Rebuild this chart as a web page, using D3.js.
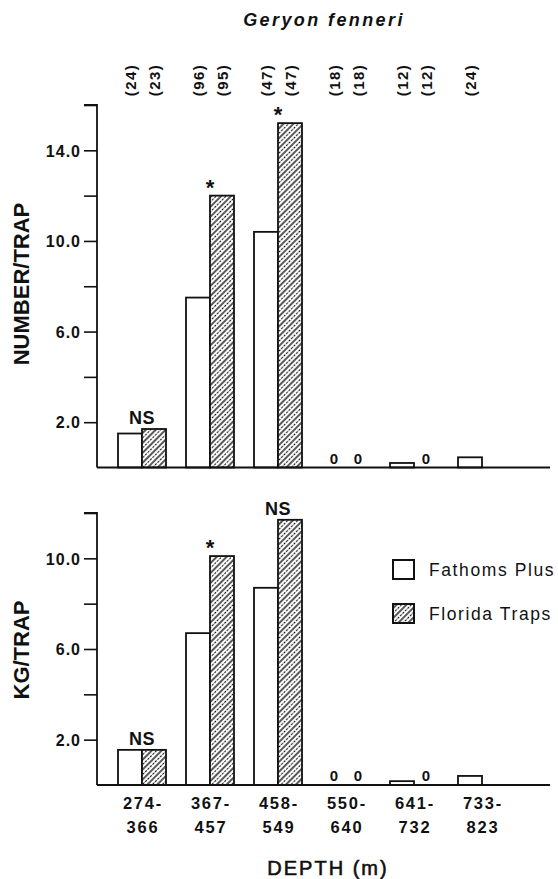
<!DOCTYPE html>
<html><head><meta charset="utf-8">
<script src="https://cdn.jsdelivr.net/npm/d3@7"></script>
<style>body{margin:0;background:#fff}svg{display:block}text{font-family:"Liberation Sans",Arial,sans-serif;fill:#111}</style>
</head><body>
<script>
const categories = ["274-366","367-457","458-549","550-640","641-732","733-823"];
const catLine1 = ["274-","367-","458-","550-","641-","733-"];
const catLine2 = ["366","457","549","640","732","823"];
const seriesNames = ["Fathoms Plus","Florida Traps"];
const numFathoms = [1.5, 7.5, 10.4, 0, 0.2, 0.45];
const numFlorida = [1.7, 12.0, 15.2, 0, 0, null];
const kgFathoms = [1.55, 6.7, 8.7, 0, 0.17, 0.4];
const kgFlorida = [1.55, 10.1, 11.7, 0, 0, null];
const nFathoms = [24, 96, 47, 18, 12, 24];
const nFlorida = [23, 95, 47, 18, 12, null];
const numSig = ["NS","*","*","","",""];
const kgSig = ["NS","*","NS","","",""];
const numTicks = [0,2,4,6,8,10,12,14,16];
const numTickLabels = [2,6,10,14];
const kgTicks = [0,2,4,6,8,10,12];
const kgTickLabels = [2,6,10];

const W = 558, H = 879;
const svg = d3.select("body").append("svg").attr("width", W).attr("height", H);
const defs = svg.append("defs");
const pat = defs.append("pattern").attr("id","hatch").attr("patternUnits","userSpaceOnUse")
  .attr("width",7).attr("height",7).attr("patternTransform","rotate(45)");
pat.append("rect").attr("width",7).attr("height",7).attr("fill","#fff");
pat.append("line").attr("x1",1).attr("x2",1).attr("y1",0).attr("y2",7).attr("stroke","#111").attr("stroke-width",1.4);
pat.append("line").attr("x1",4.5).attr("x2",4.5).attr("y1",0).attr("y2",7).attr("stroke","#111").attr("stroke-width",1.1).attr("stroke-dasharray","2.2,1.3");

const axisX0 = 97, axisX1 = 550;
const x = d3.scaleBand().domain(categories).range([108, 516]).padding(0);
const x1 = d3.scaleBand().domain(seriesNames).range([10, 58]).padding(0);

// title
svg.append("text").attr("x", 324).attr("y", 26).attr("text-anchor","middle")
  .style("font-size","18px").style("font-weight","bold").style("font-style","italic")
  .style("letter-spacing","2.4px").text("Geryon fenneri");

// counts
function countLabel(xc, v){
  if (v == null) return;
  svg.append("text").attr("transform", `translate(${xc+5.5},80) rotate(-90)`)
    .attr("text-anchor","middle").style("font-size","15px").style("font-weight","bold")
    .style("letter-spacing","1.4px").text(`(${v})`);
}
categories.forEach((c,i)=>{
  countLabel(x(c)+x1(seriesNames[0])+x1.bandwidth()/2, nFathoms[i]);
  countLabel(x(c)+x1(seriesNames[1])+x1.bandwidth()/2, nFlorida[i]);
});

function panel(cfg){
  const y = d3.scaleLinear().domain(cfg.domain).range([cfg.y0, cfg.yTop]);
  const g = svg.append("g");
  const ax = d3.axisLeft(y).tickValues(cfg.ticks).tickSize(13).tickPadding(3)
    .tickFormat(d => cfg.labels.includes(d) ? d3.format(".1f")(d) : "");
  const ag = g.append("g").attr("transform",`translate(${axisX0},0)`).call(ax);
  ag.select(".domain").attr("stroke","#111").attr("stroke-width",1.8).attr("d",`M-13,${cfg.yTop}H0V${cfg.y0}`);
  ag.selectAll(".tick line").attr("stroke","#111").attr("stroke-width",1.6);
  ag.selectAll(".tick").filter(d=>d===0).select("line").remove();
  ag.selectAll(".tick text").style("font-size","16px").style("font-weight","bold")
    .style("letter-spacing","1px")
    .style("font-family","'Liberation Sans',Arial,sans-serif").attr("fill","#111").attr("dy","0.36em");
  categories.forEach((c,i)=>{
    const vals = [cfg.a[i], cfg.b[i]];
    vals.forEach((v,j)=>{
      if (v == null) return;
      const bx = x(c)+x1(seriesNames[j]);
      if (v === 0) {
        g.append("text").attr("x", bx + x1.bandwidth()/2).attr("y", cfg.y0 - 4)
          .attr("text-anchor","middle").style("font-size","15px").style("font-weight","bold").text("0");
        return;
      }
      g.append("rect").attr("x", bx).attr("y", y(v)).attr("width", x1.bandwidth())
        .attr("height", cfg.y0 - y(v)).attr("fill", j===0 ? "#fff" : "url(#hatch)")
        .attr("stroke","#111").attr("stroke-width",1.8);
    });
    const s = cfg.sig[i];
    const cx = x(c)+x.bandwidth()/2;
    if (s === "NS") {
      const top = Math.max(cfg.a[i], cfg.b[i] ?? 0);
      g.append("text").attr("x", cx).attr("y", y(top) - 5)
        .attr("text-anchor","middle").style("font-size","18px").style("font-weight","bold")
        .style("letter-spacing","0.5px").text("NS");
    } else if (s === "*") {
      g.append("text").attr("x", cx).attr("y", y(cfg.b[i]) - 1)
        .attr("text-anchor","middle").style("font-size","22px").style("font-weight","bold").text("*");
    }
  });
  g.append("line").attr("x1", axisX0).attr("x2", axisX1).attr("y1", cfg.y0).attr("y2", cfg.y0)
    .attr("stroke","#111").attr("stroke-width",1.8);
  svg.append("text").attr("transform",`translate(${cfg.titleX},${cfg.titleY}) rotate(-90)`)
    .attr("text-anchor","middle").style("font-size","22px").style("font-weight","bold").text(cfg.title);
}

panel({domain:[0,16], y0:467.5, yTop:105, ticks:numTicks, labels:numTickLabels,
  a:numFathoms, b:numFlorida, sig:numSig, title:"NUMBER/TRAP", titleX:29, titleY:284});
panel({domain:[0,12], y0:785, yTop:513, ticks:kgTicks, labels:kgTickLabels,
  a:kgFathoms, b:kgFlorida, sig:kgSig, title:"KG/TRAP", titleX:29, titleY:650});

// x labels
categories.forEach((c,i)=>{
  const cx = x(c)+x.bandwidth()/2;
  svg.append("text").attr("x", cx+1).attr("y", 809).attr("text-anchor","middle")
    .style("font-size","16.5px").style("font-weight","bold").style("letter-spacing","1.8px").text(catLine1[i]);
  svg.append("text").attr("x", cx+1).attr("y", 833).attr("text-anchor","middle")
    .style("font-size","16.5px").style("font-weight","bold").style("letter-spacing","1.8px").text(catLine2[i]);
});
svg.append("text").attr("x", 328).attr("y", 875).attr("text-anchor","middle")
  .style("font-size","20px").style("letter-spacing","2px")
  .style("stroke","#111").style("stroke-width","0.6px").text("DEPTH (m)");

// legend
const lg = svg.append("g");
seriesNames.forEach((s,i)=>{
  const yy = 560 + i*44;
  lg.append("rect").attr("x",393).attr("y",yy).attr("width",21).attr("height",19)
    .attr("fill", i===0 ? "#fff" : "url(#hatch)").attr("stroke","#111").attr("stroke-width",2);
  lg.append("text").attr("x",429).attr("y",yy+16).style("font-size","17.5px")
    .style("letter-spacing","1.6px").text(s);
});
</script>
</body></html>
